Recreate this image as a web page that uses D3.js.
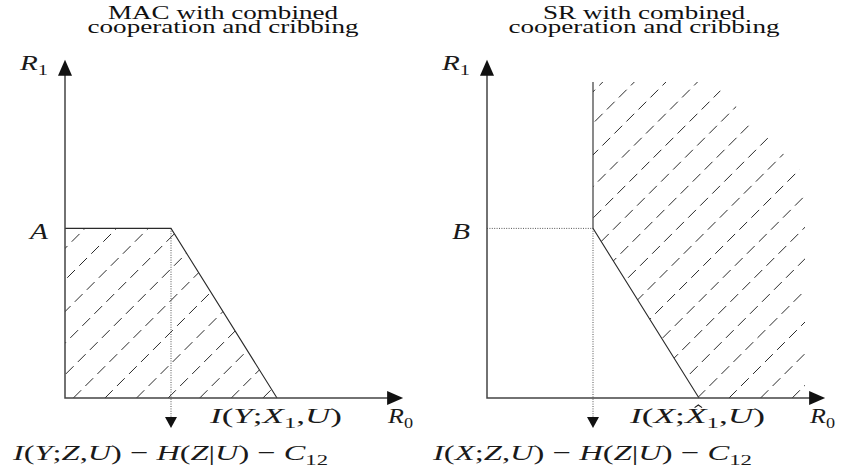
<!DOCTYPE html>
<html>
<head>
<meta charset="utf-8">
<script src="https://cdn.jsdelivr.net/npm/d3@7"></script>
<style>
  html, body { margin: 0; padding: 0; background: #fff; }
  svg { display: block; }
  svg text { font-family: "Liberation Serif", "Times New Roman", Tinos, Times, serif; }
</style>
</head>
<body>
<svg id="chart" width="843" height="472"></svg>
<script>
// ---- data (rate units) ----
const panelTitles1 = ["MAC with combined", "SR with combined"];
const panelTitles2 = ["cooperation and cribbing", "cooperation and cribbing"];
const levelLabels = ["A", "B"];
const cornerR0 = [1.0, 1.0];        // R0 at the corner point
const cornerR1 = [1.6, 1.6];        // R1 level (A / B)
const interceptR0 = [2.0, 2.0];     // where the slanted edge meets R1 = 0
const axisMax = [3.19, 3.19];
const srOuterR0 = 3.0;              // extent of the (unbounded) SR region as drawn
const srOuterR1 = 2.98;
const srCutR0 = 2.12;               // corner cut of the hatched SR region
const srCutR1 = 2.1;
const interceptLabels = ["I(Y;X_{1},U)", "I(X;\\hat{X}_{1},U)"];
const cornerLabels = ["I(Y;Z,U) − H(Z|U) − C_{12}", "I(X;Z,U) − H(Z|U) − C_{12}"];
const axisLabelX = "R_{0}";
const axisLabelY = "R_{1}";

// ---- layout ----
const svg = d3.select("#chart");
const originX = [65, 487];
const originY = 398;
const unit = 106;
const axisColor = "#444";
const lineColor = "#2a2a2a";

const defs = svg.append("defs");

// Small TeX-like label: letters italic, digits/punctuation upright, _{..} subscripts, \hat{X}
function mathLabel(g, x, y, src, fs, width, anchor) {
  const t = g.append("text")
    .attr("x", x).attr("y", y)
    .attr("font-size", fs)
    .attr("fill", "#1a1a1a")
    .attr("text-anchor", anchor || "start");
  let i = 0, charIndex = 0, pendingDy = 0;
  const hats = [];
  function add(str, italic, sub) {
    const s = t.append("tspan").text(str)
      .attr("font-style", italic ? "italic" : "normal");
    if (sub) {
      s.attr("font-size", fs * 0.7).attr("dy", fs * 0.22);
      pendingDy = -fs * 0.22;
    } else if (pendingDy) {
      s.attr("dy", pendingDy);
      pendingDy = 0;
    }
    charIndex += str.length;
  }
  while (i < src.length) {
    if (src.startsWith("\\hat{", i)) {
      const end = src.indexOf("}", i);
      const ch = src.slice(i + 5, end);
      hats.push(charIndex);
      add(ch, true, false);
      i = end + 1;
    } else if (src.startsWith("_{", i)) {
      const end = src.indexOf("}", i);
      add(src.slice(i + 2, end), false, true);
      i = end + 1;
    } else {
      const ch = src[i];
      add(ch, /[A-Za-z]/.test(ch), false);
      i++;
    }
  }
  if (width) t.attr("textLength", width).attr("lengthAdjust", "spacingAndGlyphs");
  const node = t.node();
  hats.forEach(ci => {
    const e = node.getExtentOfChar(ci);
    const cx = e.x + e.width * 0.62;
    const top = y - fs * 0.8;
    g.append("path")
      .attr("d", `M${cx - fs * 0.17},${top + fs * 0.1} L${cx},${top - fs * 0.02} L${cx + fs * 0.17},${top + fs * 0.1}`)
      .attr("fill", "none").attr("stroke", "#1a1a1a").attr("stroke-width", 1.1);
  });
  return t;
}

function arrowHead(g, tipX, tipY, dir, len, half) {
  let pts;
  if (dir === "up") pts = [[tipX, tipY], [tipX - half, tipY + len], [tipX + half, tipY + len]];
  else if (dir === "right") pts = [[tipX, tipY], [tipX - len, tipY - half], [tipX - len, tipY + half]];
  else pts = [[tipX, tipY], [tipX - half, tipY - len], [tipX + half, tipY - len]];
  g.append("path").attr("d", d3.line()(pts) + "Z").attr("fill", "#111");
}

[0, 1].forEach(p => {
  const g = svg.append("g");
  const x = d3.scaleLinear().domain([0, axisMax[p]]).range([originX[p], originX[p] + axisMax[p] * unit]);
  const y = d3.scaleLinear().domain([0, axisMax[p]]).range([originY, originY - axisMax[p] * unit]);
  const line = d3.line().x(d => x(d[0])).y(d => y(d[1]));

  // hatched achievable region
  const region = p === 0
    ? [[0, 0], [0, cornerR1[p]], [cornerR0[p], cornerR1[p]], [interceptR0[p], 0]]
    : [[cornerR0[p], srOuterR1], [srCutR0, srOuterR1], [srOuterR0, srCutR1], [srOuterR0, 0],
       [interceptR0[p], 0], [cornerR0[p], cornerR1[p]]];
  const clipId = "clip" + p;
  defs.append("clipPath").attr("id", clipId)
    .append("path").attr("d", line(region) + "Z");

  const hatch = g.append("g").attr("clip-path", `url(#${clipId})`);
  const spacing = 0.298;
  const phase = p === 0 ? 0.205 : 0.025;
  const offsets = d3.range(phase - 4, axisMax[p] + 0.01, spacing);
  hatch.selectAll("line").data(offsets).join("line")
    .attr("x1", d => x(d)).attr("y1", y(0))
    .attr("x2", d => x(d + 4)).attr("y2", y(4))
    .attr("stroke", "#2a2a2a").attr("stroke-width", 1)
    .attr("stroke-dasharray", "11 6");

  // dotted guides
  const dotted = g.append("g").attr("stroke", "#555").attr("stroke-width", 1)
    .attr("stroke-dasharray", "1 1.4").attr("fill", "none");
  dotted.append("path").attr("d", line([[cornerR0[p], cornerR1[p]], [cornerR0[p], -0.19]]));
  if (p === 1) dotted.append("path").attr("d", line([[0, cornerR1[p]], [cornerR0[p], cornerR1[p]]]));
  arrowHead(g, x(cornerR0[p]), y(-0.283), "down", 11, 6);

  // region boundary
  const boundary = p === 0
    ? [[0, cornerR1[p]], [cornerR0[p], cornerR1[p]], [interceptR0[p], 0]]
    : [[cornerR0[p], srOuterR1], [cornerR0[p], cornerR1[p]], [interceptR0[p], 0]];
  g.append("path").attr("d", line(boundary)).attr("fill", "none")
    .attr("stroke", lineColor).attr("stroke-width", 1.1);

  // axes
  const axMax = axisMax[p] - 0.14;
  g.append("path").attr("d", line([[0, axMax], [0, 0], [axMax, 0]]))
    .attr("fill", "none").attr("stroke", axisColor).attr("stroke-width", 1.5);
  arrowHead(g, x(0), y(axisMax[p]), "up", 16, 7);
  arrowHead(g, x(axisMax[p]), y(0), "right", 16, 7);

  // titles
  const cx = p === 0 ? 223 : 644;
  g.append("text").attr("x", cx).attr("y", 19).attr("text-anchor", "middle")
    .attr("font-size", 19.5).attr("fill", "#111")
    .attr("textLength", p === 0 ? 230 : 202).attr("lengthAdjust", "spacingAndGlyphs")
    .text(panelTitles1[p]);
  g.append("text").attr("x", cx).attr("y", 33).attr("text-anchor", "middle")
    .attr("font-size", 19).attr("fill", "#111")
    .attr("textLength", 271).attr("lengthAdjust", "spacingAndGlyphs")
    .text(panelTitles2[p]);

  // axis and point labels
  mathLabel(g, x(0) - 45, 70, axisLabelY, 22, 28);
  mathLabel(g, x(0) - 35, y(cornerR1[p]) + 11, levelLabels[p], 24, 18);
  mathLabel(g, x(axisMax[p]) - 15, 423, axisLabelX, 22, 25);
  mathLabel(g, p === 0 ? 210 : 630, 423, interceptLabels[p], 22, p === 0 ? 132 : 135);
  mathLabel(g, p === 0 ? 13 : 433, 460, cornerLabels[p], 22, p === 0 ? 315 : 319);
});
</script>
</body>
</html>
